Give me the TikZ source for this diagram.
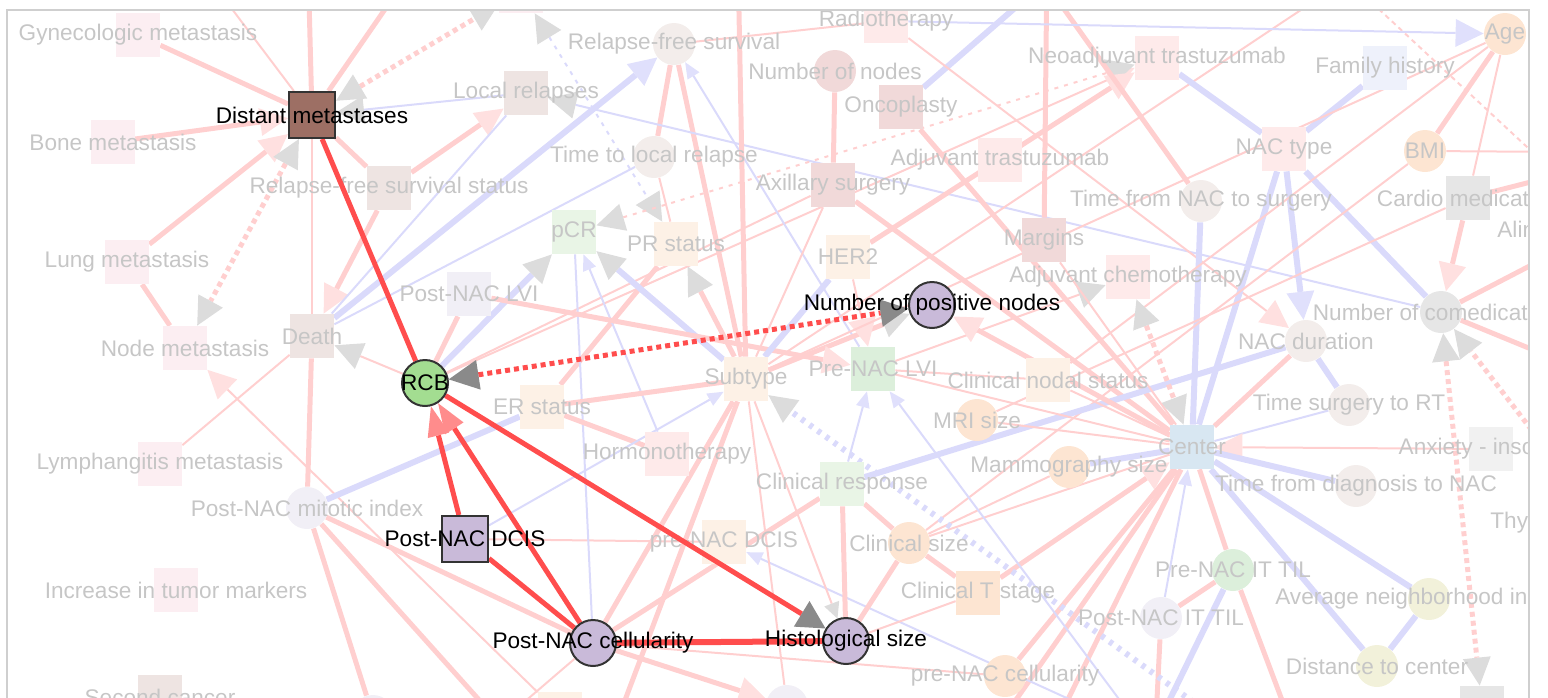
\documentclass[tikz,border=0pt]{standalone}
\usepackage{fontspec}
\setmainfont{Liberation Sans}
\usetikzlibrary{arrows.meta}
\pgfdeclarelayer{fedge}
\pgfdeclarelayer{fnode}
\pgfdeclarelayer{hedge}
\pgfsetlayers{fedge,fnode,hedge,main}
\definecolor{hred}{HTML}{FF4D4D}
\definecolor{hgray}{HTML}{8A8A8A}
\definecolor{hrtip}{HTML}{FF8C8C}
\definecolor{hbord}{HTML}{333333}
\definecolor{hbrown}{HTML}{9D6F64}
\definecolor{hgreen}{HTML}{A3DD91}
\definecolor{hlav}{HTML}{C9BAD9}
\definecolor{fpink}{HTML}{FFCFCF}
\definecolor{fblue}{HTML}{DADAFB}
\definecolor{ftipg}{HTML}{DCDCDC}
\definecolor{ftipp}{HTML}{FFE0E0}
\definecolor{ftipb}{HTML}{E0E0FC}
\definecolor{ftext}{HTML}{C6C6C6}
\definecolor{framec}{HTML}{CFCFCF}
\definecolor{cpk}{HTML}{FCEEF2}
\definecolor{cbr}{HTML}{EEE4E2}
\definecolor{cbrt}{HTML}{F3EDEB}
\definecolor{cgr}{HTML}{E9F5E6}
\definecolor{cgrt}{HTML}{DCEFDB}
\definecolor{cor}{HTML}{FDF1E6}
\definecolor{cpeach}{HTML}{FDE5D2}
\definecolor{clav}{HTML}{F1EFF6}
\definecolor{crose}{HTML}{F1D9D9}
\definecolor{cred}{HTML}{FEEAEA}
\definecolor{cblu}{HTML}{EEF1FB}
\definecolor{ccen}{HTML}{D8E7F2}
\definecolor{cgry}{HTML}{E6E6E6}
\definecolor{cgryt}{HTML}{F1F1F1}
\definecolor{colv}{HTML}{F2F1DA}
\newcommand{\lbl}{\fontsize{11.3}{13}\selectfont}
\newcommand{\frameclip}{\clip (7,10) rectangle (1529,720);}
\tikzset{
  fsq/.style={rectangle, minimum size=22pt, inner sep=0pt},
  fci/.style={circle, minimum size=21pt, inner sep=0pt},
  ftxt/.style={text=ftext, font=\lbl, inner sep=0pt},
  hsq/.style={rectangle, draw=hbord, line width=1pt, minimum size=23pt, inner sep=0pt},
  hci/.style={circle, draw=hbord, line width=1pt, minimum size=23pt, inner sep=0pt},
  htxt/.style={text=black, font=\lbl, inner sep=0pt},
  pk/.style={draw=fpink, line width=1pt},
  PK/.style={draw=fpink, line width=2.5pt},
  bl/.style={draw=fblue, line width=1pt},
  BL/.style={draw=fblue, line width=3pt},
  dts/.style={dash pattern=on 2.5pt off 2pt},
  sdts/.style={dash pattern=on 2pt off 3pt},
  hr/.style={draw=hred, line width=2.5pt},
  ga/.style={arrows={-Triangle[length=14pt,width=14pt,color=ftipg,line width=0pt]}},
  sga/.style={arrows={-Triangle[length=8pt,width=8pt,color=ftipg,line width=0pt]}},
  gg/.style={arrows={Triangle[length=14pt,width=14pt,color=ftipg,line width=0pt]-Triangle[length=14pt,width=14pt,color=ftipg,line width=0pt]}},
  pa/.style={arrows={-Triangle[length=14pt,width=14pt,color=ftipp,line width=0pt]}},
  ba/.style={arrows={-Triangle[length=14pt,width=14pt,color=ftipb,line width=0pt]}},
  sba/.style={arrows={-Triangle[length=8pt,width=7pt,color=ftipb,line width=0pt]}},
  hga/.style={arrows={-Triangle[length=14pt,width=15pt,color=hgray,line width=0pt]}},
  hgg/.style={arrows={Triangle[length=15pt,width=15pt,color=hgray,line width=0pt]-Triangle[length=14pt,width=14pt,color=hgray,line width=0pt]}},
  hra/.style={arrows={-Triangle[length=15pt,width=11pt,color=hrtip,line width=0pt]}},
}
\begin{document}
\begin{tikzpicture}[x=0.5pt,y=-0.5pt]
\useasboundingbox (0,0) rectangle (1548,697);
\node[hsq,fill=hbrown,label={[htxt]center:Distant metastases}] (dm) at (312,115) {};
\node[hci,fill=hgreen,label={[htxt]center:RCB}] (rcb) at (425,383) {};
\node[hsq,fill=hlav,label={[htxt]center:Post-NAC DCIS}] (pdcis) at (465,539) {};
\node[hci,fill=hlav,label={[htxt]center:Post-NAC cellularity}] (pnc) at (593,643) {};
\node[hci,fill=hlav,label={[htxt]center:Histological size}] (hist) at (846,641) {};
\node[hci,fill=hlav,label={[htxt]center:Number of positive nodes}] (npn) at (932,305) {};
\begin{pgfonlayer}{fnode}
\begin{scope}
\frameclip
\node[fsq,fill=cpk,label={[ftxt]center:Gynecologic metastasis}] (gyn) at (138,35) {};
\node[fsq,fill=cpk,label={[ftxt]center:Bone metastasis}] (bone) at (113,142) {};
\node[fsq,fill=cpk,label={[ftxt]center:Lung metastasis}] (lung) at (127,262) {};
\node[fsq,fill=cpk,label={[ftxt]center:Node metastasis}] (nodem) at (185,348) {};
\node[fsq,fill=cpk,label={[ftxt]center:Lymphangitis metastasis}] (lymph) at (160,464) {};
\node[fsq,fill=cpk,label={[ftxt]center:Increase in tumor markers}] (tumor) at (176,590) {};
\node[fsq,fill=cbr,label={[ftxt]center:Second cancer}] (second) at (160,697) {};
\node[fsq,fill=cbr,label={[ftxt]center:Death}] (death) at (312,336) {};
\node[fsq,fill=cbr,label={[ftxt]center:Relapse-free survival status}] (rfss) at (389,188) {};
\node[fsq,fill=cbr,label={[ftxt]center:Local relapses}] (local) at (526,93) {};
\node[fci,fill=cbrt,label={[ftxt]center:Relapse-free survival}] (rfs) at (674,44) {};
\node[fci,fill=cbrt,label={[ftxt]center:Time to local relapse}] (ttlr) at (654,157) {};
\node[fsq,fill=cgr,label={[ftxt]center:pCR}] (pcr) at (574,232) {};
\node[fsq,fill=cor,label={[ftxt]center:PR status}] (pr) at (676,244) {};
\node[fsq,fill=clav,label={[ftxt]center:Post-NAC LVI}] (plvi) at (469,294) {};
\node[fsq,fill=cor,label={[ftxt]center:ER status}] (er) at (542,407) {};
\node[fsq,fill=cred,label={[ftxt]center:Hormonotherapy}] (hormo) at (667,454) {};
\node[fci,fill=clav,label={[ftxt]center:Post-NAC mitotic index}] (mitotic) at (307,508) {};
\node[fsq,fill=cor,label={[ftxt]center:Subtype}] (subtype) at (746,379) {};
\node[fsq,fill=cgrt,label={[ftxt]center:Pre-NAC LVI}] (prelvi) at (873,369) {};
\node[fsq,fill=cor,label={[ftxt]center:pre-NAC DCIS}] (predcis) at (724,542) {};
\node[fsq,fill=cgr,label={[ftxt]center:Clinical response}] (clinresp) at (842,484) {};
\node[fsq,fill=cor,label={[ftxt]center:HER2}] (her2) at (848,257) {};
\node[fsq,fill=cred,label={[ftxt]center:Radiotherapy}] (radio) at (886,21) {};
\node[fci,fill=crose,label={[ftxt]center:Number of nodes}] (nnodes) at (835,71) {};
\node[fsq,fill=crose,label={[ftxt]center:Oncoplasty}] (onco) at (901,107) {};
\node[fsq,fill=crose,label={[ftxt]center:Axillary surgery}] (axil) at (833,185) {};
\node[fsq,fill=cred,label={[ftxt]center:Neoadjuvant trastuzumab}] (neotr) at (1157,58) {};
\node[fsq,fill=cred,label={[ftxt]center:Adjuvant trastuzumab}] (adjtr) at (1000,160) {};
\node[fsq,fill=crose,label={[ftxt]center:Margins}] (margins) at (1044,240) {};
\node[fsq,fill=cred,label={[ftxt]center:Adjuvant chemotherapy}] (adjchemo) at (1128,277) {};
\node[fsq,fill=cor,label={[ftxt]center:Clinical nodal status}] (clinnodal) at (1048,380) {};
\node[fci,fill=cpeach,label={[ftxt]center:MRI size}] (mri) at (977,420) {};
\node[fci,fill=cpeach,label={[ftxt]center:Mammography size}] (mammo) at (1069,467) {};
\node[fci,fill=cpeach,label={[ftxt]center:Clinical size}] (clinsize) at (909,543) {};
\node[fsq,fill=cpeach,label={[ftxt]center:Clinical T stage}] (clint) at (978,593) {};
\node[fci,fill=cpeach,label={[ftxt]center:pre-NAC cellularity}] (precell) at (1005,676) {};
\node[fci,fill=clav,label={[ftxt]center:Post-NAC IT TIL}] (postit) at (1161,618) {};
\node[fci,fill=cgrt,label={[ftxt]center:Pre-NAC IT TIL}] (preit) at (1233,570) {};
\node[fsq,fill=ccen,label={[ftxt]center:Center}] (center) at (1192,447) {};
\node[fci,fill=cbrt,label={[ftxt]center:Time from NAC to surgery}] (tnacs) at (1201,201) {};
\node[fsq,fill=cred,label={[ftxt]center:NAC type}] (nactype) at (1284,149) {};
\node[fsq,fill=cblu,label={[ftxt]center:Family history}] (family) at (1385,68) {};
\node[fci,fill=cpeach,label={[ftxt]center:Age}] (age) at (1505,34) {};
\node[fci,fill=cpeach,label={[ftxt]center:BMI}] (bmi) at (1425,151) {};
\node[fsq,fill=cgry,label={[ftxt]center:Cardio medication}] (cardio) at (1468,198) {};
\node[fci,fill=cbrt,label={[ftxt]center:NAC duration}] (nacdur) at (1306,341) {};
\node[fci,fill=cgry,label={[ftxt]center:Number of comedications}] (ncomed) at (1441,312) {};
\node[fci,fill=cbrt,label={[ftxt]center:Time surgery to RT}] (tsrt) at (1349,405) {};
\node[fsq,fill=cgryt,label={[ftxt]center:Anxiety - insomnia}] (anxiety) at (1491,449) {};
\node[fci,fill=cbrt,label={[ftxt]center:Time from diagnosis to NAC}] (tdiag) at (1356,486) {};
\node[fci,fill=colv,label={[ftxt]center:Average neighborhood income}] (avgnb) at (1429,599) {};
\node[fci,fill=colv,label={[ftxt]center:Distance to center}] (dist) at (1377,666) {};
\node[fsq,fill=cpk] (topsq) at (521,-9) {};
\node[fci,fill=clav] (botca) at (373,716) {};
\node[fsq,fill=cor] (botsq) at (560,714) {};
\node[fci,fill=clav] (botcb) at (787,706) {};
\node[fsq,fill=cgry] (botg) at (1482,708) {};
\node[ftxt,anchor=west] (alin) at (1497,229) {Alin};
\node[ftxt,anchor=west] (thyr) at (1490,523) {Thyr};
\end{scope}
\end{pgfonlayer}
\coordinate (ta) at (195,-40);
\coordinate (tb) at (308,-40);
\coordinate (tc) at (419,-40);
\coordinate (ts) at (738,-40);
\coordinate (tm) at (1047,-40);
\coordinate (tn) at (1029,-40);
\coordinate (tp) at (1376,-40);
\coordinate (to) at (1070,-40);
\coordinate (tr) at (960,-20);
\coordinate (tda) at (1326,-40);
\coordinate (tdb) at (1570,187);
\coordinate (rb) at (1570,152);
\coordinate (rc) at (1570,172);
\coordinate (rna) at (1570,245);
\coordinate (rnb) at (1570,365);
\coordinate (rnc) at (1570,480);
\coordinate (bpa) at (1150,740);
\coordinate (bpb) at (1297,740);
\coordinate (bpt) at (1155,740);
\coordinate (bcla) at (988,740);
\coordinate (bclb) at (1048,740);
\coordinate (bsub) at (1218,720);
\coordinate (bprelvi) at (1142,730);
\coordinate (bpredcis) at (1148,735);
\coordinate (bsb) at (610,740);
\coordinate (bpl) at (480,740);
\coordinate (bm) at (515,740);
\begin{pgfonlayer}{fedge}
\begin{scope}
\frameclip
\draw[PK] (gyn) -- (dm);
\draw[pk] (ta) -- (dm);
\draw[PK] (tb) -- (dm);
\draw[PK] (tc) -- (dm);
\draw[PK,pa] (bone) -- (dm);
\draw[PK,pa] (lung) -- (dm);
\draw[bl,ga] (local) -- (dm);
\draw[PK,dts,gg] (dm) -- (topsq);
\draw[PK,dts,gg] (dm) -- (nodem);
\draw[pk] (dm) -- (death);
\draw[PK] (dm) -- (rfss);
\draw[PK,pa] (rfss) -- (local);
\draw[PK,pa] (rfss) -- (death);
\draw[PK] (lung) -- (nodem);
\draw[pk] (death) -- (lymph);
\draw[pk,ga] (rcb) -- (death);
\draw[PK] (death) -- (mitotic);
\draw[BL,ba] (death) -- (rfs);
\draw[bl] (death) -- (local);
\draw[bl] (death) -- (ttlr);
\draw[pk,pa] (botsq) -- (nodem);
\draw[BL] (mitotic) -- (er);
\draw[PK] (mitotic) -- (pnc);
\draw[PK] (mitotic) -- (botca);
\draw[PK] (mitotic) -- (bm);
\draw[pk] (pdcis) -- (predcis);
\draw[PK] (rcb) -- (plvi);
\draw[BL,ga] (rcb) -- (pcr);
\draw[pk] (rcb) -- (axil);
\draw[pk,pa] (rcb) -- (neotr);
\draw[pk] (rfs) -- (radio);
\draw[PK] (rfs) -- (ttlr);
\draw[PK] (rfs) -- (subtype);
\draw[bl,sba] (prelvi) -- (rfs);
\draw[bl,ga] (ncomed) -- (local);
\draw[bl,sdts,gg] (topsq) -- (pr);
\draw[pk] (ttlr) -- (pr);
\draw[pk,sdts,gg] (pcr) -- (neotr);
\draw[PK] (er) -- (pr);
\draw[BL,ga] (subtype) -- (pcr);
\draw[bl] (pcr) -- (pnc);
\draw[bl,sba] (hormo) -- (pcr);
\draw[PK,ga] (subtype) -- (pr);
\draw[PK,ga] (subtype) -- (ts);
\draw[PK] (er) -- (subtype);
\draw[PK] (er) -- (hormo);
\draw[bl,sba] (pdcis) -- (subtype);
\draw[PK,ga] (subtype) -- (npn);
\draw[PK,pa] (plvi) -- (prelvi);
\draw[PK] (nnodes) -- (axil);
\draw[pk] (axil) -- (subtype);
\draw[PK] (axil) -- (center);
\draw[PK] (onco) -- (center);
\draw[BL] (onco) -- (to);
\draw[BL] (radio) -- (tr);
\draw[BL] (subtype) -- (her2);
\draw[PK,pa] (her2) -- (neotr);
\draw[pk,pa] (her2) -- (prelvi);
\draw[pk] (tp) -- (subtype);
\draw[PK] (tm) -- (margins);
\draw[PK] (tn) -- (tnacs);
\draw[pk,dts] (tda) -- (tdb);
\draw[bl,ba] (radio) -- (age);
\draw[pk,pa] (radio) -- (nacdur);
\draw[BL] (neotr) -- (nactype);
\draw[BL] (family) -- (nactype);
\draw[BL,ba] (nactype) -- (nacdur);
\draw[BL] (nactype) -- (center);
\draw[BL] (nactype) -- (ncomed);
\draw[BL] (tnacs) -- (center);
\draw[PK] (age) -- (bmi);
\draw[pk] (age) -- (cardio);
\draw[pk] (age) -- (subtype);
\draw[pk] (bmi) -- (rb);
\draw[pk] (bmi) -- (clinsize);
\draw[PK] (cardio) -- (rc);
\draw[PK,pa] (cardio) -- (ncomed);
\draw[PK] (ncomed) -- (rna);
\draw[PK] (ncomed) -- (rnb);
\draw[PK,dts,gg] (ncomed) -- (botg);
\draw[PK,dts,ga] (rnc) -- (ncomed);
\draw[pk] (mri) -- (cardio);
\draw[pk] (clinnodal) -- (age);
\draw[PK] (nacdur) -- (center);
\draw[BL] (nacdur) -- (tsrt);
\draw[BL] (clinresp) -- (nacdur);
\draw[bl] (tsrt) -- (center);
\draw[pk,pa] (anxiety) -- (center);
\draw[PK,dts,gg] (adjchemo) -- (center);
\draw[pk,ga] (prelvi) -- (adjchemo);
\draw[PK,pa] (center) -- (npn);
\draw[pk] (prelvi) -- (clinnodal);
\draw[pk] (prelvi) -- (center);
\draw[pk] (margins) -- (center);
\draw[pk] (mri) -- (center);
\draw[pk] (clinnodal) -- (center);
\draw[BL] (center) -- (mammo);
\draw[BL] (center) -- (avgnb);
\draw[BL] (center) -- (dist);
\draw[BL] (center) -- (tdiag);
\draw[BL] (avgnb) -- (dist);
\draw[PK] (center) -- (preit);
\draw[PK] (center) -- (precell);
\draw[PK] (center) -- (bcla);
\draw[PK] (center) -- (bclb);
\draw[PK,pa] (clint) -- (center);
\draw[pk] (clinsize) -- (center);
\draw[pk] (clinsize) -- (mammo);
\draw[bl,sba] (postit) -- (center);
\draw[PK] (preit) -- (postit);
\draw[BL] (preit) -- (bpa);
\draw[PK] (preit) -- (bpb);
\draw[PK] (postit) -- (bpt);
\draw[BL,sdts,ga] (bsub) -- (subtype);
\draw[bl,sba] (bprelvi) -- (prelvi);
\draw[bl,sba] (clinresp) -- (prelvi);
\draw[bl,sba] (bpredcis) -- (predcis);
\draw[PK] (pnc) -- (clinresp);
\draw[PK] (pnc) -- (subtype);
\draw[PK] (bsb) -- (subtype);
\draw[PK,pa] (pnc) -- (botcb);
\draw[pk] (pnc) -- (precell);
\draw[pk] (pnc) -- (bpl);
\draw[PK] (hist) -- (clinresp);
\draw[PK] (hist) -- (clinsize);
\draw[pk] (hist) -- (clint);
\draw[pk,sga] (subtype) -- (hist);
\draw[pk] (subtype) -- (botcb);
\draw[PK] (clinresp) -- (clinsize);
\draw[PK] (clinsize) -- (clint);
\end{scope}
\end{pgfonlayer}
\begin{pgfonlayer}{hedge}
\draw[hr] (dm) -- (rcb);
\draw[hr,hga] (rcb) -- (hist);
\draw[hr,hra] (pdcis) -- (rcb);
\draw[hr,hra] (pnc) -- (rcb);
\draw[hr] (pdcis) -- (pnc);
\draw[hr,line width=3pt] (pnc) -- (hist);
\draw[hr,dts,hgg] (rcb) -- (npn);
\end{pgfonlayer}
\draw[framec,line width=0.6pt] (7,720) -- (7,10) -- (1529,10) -- (1529,720);
\end{tikzpicture}
\end{document}
